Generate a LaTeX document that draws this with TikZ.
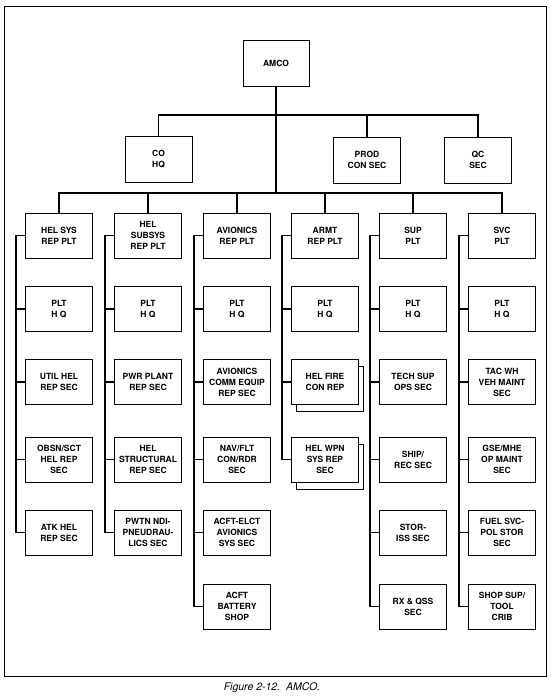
\documentclass[tikz,border=0pt]{standalone}
\usepackage{fontspec}
\setmainfont{TeX Gyre Heros}
\usetikzlibrary{calc}
\begin{document}
\begin{tikzpicture}[x=1pt,y=-1pt,
  unit/.style={draw,line width=0.9pt,minimum width=67pt,minimum height=45pt,inner sep=1pt,align=center,fill=white,font=\fontsize{8.5}{11}\selectfont\bfseries},
  shadowbox/.style={draw,line width=0.9pt,minimum width=67pt,minimum height=45pt,fill=white},
  conn/.style={line width=1.8pt},
  frame/.style={line width=0.8pt}]
\useasboundingbox (0,0) rectangle (550,700);
\draw[frame] (4,6) rectangle (546,676);
% top level
\node[unit,minimum width=66pt,minimum height=46pt] (amco) at (276,63) {AMCO};
\node[unit,minimum height=46pt] (co) at (158.5,159) {CO\\HQ};
\node[unit,minimum height=46pt] (prod) at (367,160) {PROD\\CON SEC};
\node[unit,minimum height=46pt] (qc) at (478,160) {QC\\SEC};
\coordinate (tbus) at (276,115);
\coordinate (bus) at (276,193);
% column 1
\node[unit] (a1) at (59,235.5) {HEL SYS\\REP PLT};
\node[unit] (a2) at (59,309) {PLT\\H Q};
\node[unit] (a3) at (59,382) {UTIL HEL\\REP SEC};
\node[unit] (a4) at (59,459.5) {OBSN/SCT\\HEL REP\\SEC};
\node[unit] (a5) at (59,532.5) {ATK HEL\\REP SEC};
% column 2
\node[unit] (b1) at (148,235.5) {HEL\\SUBSYS\\REP PLT};
\node[unit] (b2) at (148,309) {PLT\\H Q};
\node[unit] (b3) at (148,382) {PWR PLANT\\REP SEC};
\node[unit] (b4) at (148,459.5) {HEL\\STRUCTURAL\\REP SEC};
\node[unit] (b5) at (148,532.5) {PWTN NDI-\\PNEUDRAU-\\LICS SEC};
% column 3
\node[unit] (c1) at (237,235.5) {AVIONICS\\REP PLT};
\node[unit] (c2) at (237,309) {PLT\\H Q};
\node[unit] (c3) at (237,382) {AVIONICS\\COMM EQUIP\\REP SEC};
\node[unit] (c4) at (237,459.5) {NAV/FLT\\CON/RDR\\SEC};
\node[unit] (c5) at (237,532.5) {ACFT-ELCT\\AVIONICS\\SYS SEC};
\node[unit] (c6) at (237,606.5) {ACFT\\BATTERY\\SHOP};
% column 4
\node[unit] (d1) at (325,235.5) {ARMT\\REP PLT};
\node[unit] (d2) at (325,309) {PLT\\H Q};
\node[shadowbox] (d3s) at (330,389) {};
\node[unit] (d3) at (325,382) {HEL FIRE\\CON REP};
\node[shadowbox] (d4s) at (330,466.5) {};
\node[unit] (d4) at (325,459.5) {HEL WPN\\SYS REP\\SEC};
% column 5
\node[unit] (e1) at (413,235.5) {SUP\\PLT};
\node[unit] (e2) at (413,309) {PLT\\H Q};
\node[unit] (e3) at (413,382) {TECH SUP\\OPS SEC};
\node[unit] (e4) at (413,459.5) {SHIP/\\REC SEC};
\node[unit] (e5) at (413,532.5) {STOR-\\ISS SEC};
\node[unit] (e6) at (413,606.5) {RX \& QSS\\SEC};
% column 6
\node[unit] (f1) at (502,235.5) {SVC\\PLT};
\node[unit] (f2) at (502,309) {PLT\\H Q};
\node[unit] (f3) at (502,382) {TAC WH\\VEH MAINT\\SEC};
\node[unit] (f4) at (502,459.5) {GSE/MHE\\OP MAINT\\SEC};
\node[unit] (f5) at (502,532.5) {FUEL SVC-\\POL STOR\\SEC};
\node[unit] (f6) at (502,606.5) {SHOP SUP/\\TOOL\\CRIB};
% top connectors
\draw[conn] (amco.south) -- (bus);
\draw[conn] (co.north) |- (qc.north |- tbus) -- (qc.north);
\draw[conn] (prod.north) -- (prod.north |- tbus);
\draw[conn] (a1.north) |- (f1.north |- bus) -- (f1.north);
\foreach \n in {b1,c1,d1,e1} \draw[conn] (\n.north) -- (\n.north |- bus);
% spines
\foreach \h/\l in {a/5,b/5,c/6,d/4,e/6,f/6} {
  \coordinate (sp\h) at ($(\h1.west)+(-9,0)$);
  \draw[conn] (\h1.west) -- (sp\h) |- (\h\l.west);
}
\foreach \h/\r in {a/2,a/3,a/4,b/2,b/3,b/4,c/2,c/3,c/4,c/5,d/2,d/3,e/2,e/3,e/4,e/5,f/2,f/3,f/4,f/5}
  \draw[conn] (\h\r.west) -- (\h\r.west -| sp\h);
% caption
\node[font=\fontsize{10.5}{12}\selectfont\itshape] (cap) at (272,688) {Figure 2-12.\ \ AMCO.};
\end{tikzpicture}
\end{document}
